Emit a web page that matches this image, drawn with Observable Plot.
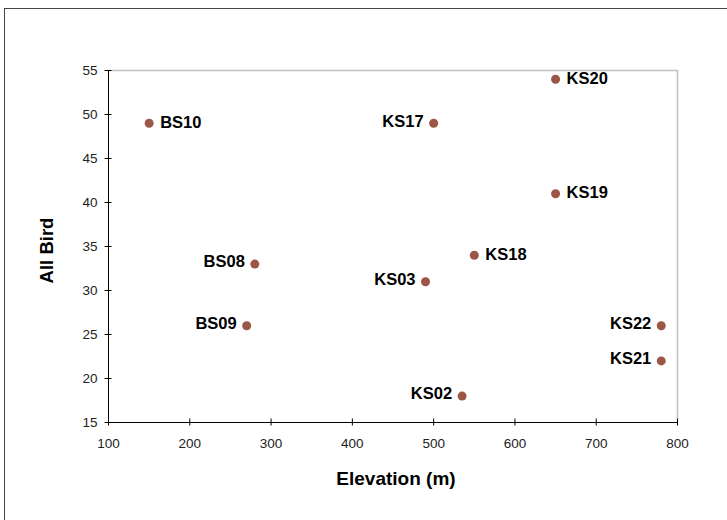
<!DOCTYPE html>
<html>
<head>
<meta charset="utf-8">
<script src="https://cdn.jsdelivr.net/npm/d3@7"></script>
<script src="https://cdn.jsdelivr.net/npm/@observablehq/plot@0.6"></script>
<style>
  html, body { margin: 0; padding: 0; background: #fff; overflow: hidden; }
  #wrap { position: relative; width: 727px; height: 520px; overflow: hidden; }
  #frame { position: absolute; left: 4px; top: 8px; width: 760px; height: 560px; border: 1px solid #444; box-sizing: border-box; }
  #chart { position: absolute; left: 0; top: 0; }
</style>
</head>
<body>
<div id="wrap"><div id="frame"></div><div id="chart"></div></div>
<script>
const sites = ["BS10", "KS17", "KS20", "KS19", "KS18", "KS03", "BS08", "BS09", "KS22", "KS21", "KS02"];
const elevation = [150, 500, 650, 650, 550, 490, 280, 270, 780, 780, 535];
const allBird = [49, 49, 54, 41, 34, 31, 33, 26, 26, 22, 18];
const labelSide = ["right", "left", "right", "right", "right", "left", "left", "left", "left", "left", "left"];
const xTicks = [100, 200, 300, 400, 500, 600, 700, 800];
const yTicks = [15, 20, 25, 30, 35, 40, 45, 50, 55];

const data = sites.map((s, i) => ({site: s, x: elevation[i], y: allBird[i], side: labelSide[i]}));
const font = "Liberation Sans, Arial, sans-serif";

const chart = Plot.plot({
  width: 727,
  height: 520,
  marginLeft: 108,
  marginRight: 50,
  marginTop: 70,
  marginBottom: 98,
  style: {fontFamily: font, background: "transparent"},
  x: {domain: [100, 800]},
  y: {domain: [15, 55]},
  marks: [
    Plot.ruleY([55], {stroke: "#c0c0c0", strokeWidth: 1.5}),
    Plot.ruleX([800], {stroke: "#c0c0c0", strokeWidth: 1.5}),
    Plot.ruleY([15], {stroke: "#000"}),
    Plot.ruleX([100], {stroke: "#000"}),
    Plot.axisX(xTicks, {tickSize: 7, dy: -3.5, tickFormat: () => "", label: null, stroke: "#000"}),
    Plot.axisX(xTicks, {tickSize: 0, tickPadding: 16, label: null, fontSize: 13.5, fill: "#222"}),
    Plot.axisY(yTicks, {tickSize: 7, dx: 3.5, tickFormat: () => "", label: null, stroke: "#000"}),
    Plot.axisY(yTicks, {tickSize: 0, tickPadding: 11, label: null, fontSize: 13.5, fill: "#222"}),
    Plot.dot(data, {x: "x", y: "y", r: 4.5, fill: "#9c5646", stroke: null}),
    Plot.text(data.filter(d => d.side === "right"), {x: "x", y: "y", text: "site", dx: 11, dy: -1, textAnchor: "start", fontSize: 16.5, fontWeight: "bold", fill: "#000"}),
    Plot.text(data.filter(d => d.side === "left"), {x: "x", y: "y", text: "site", dx: -10, dy: -2, textAnchor: "end", fontSize: 16.5, fontWeight: "bold", fill: "#000"}),
    Plot.text(["Elevation (m)"], {frameAnchor: "bottom", dx: 3, dy: 56, text: d => d, textAnchor: "middle", fontSize: 19, fontWeight: "bold", fill: "#000", lineAnchor: "middle"}),
    Plot.text(["All Bird"], {frameAnchor: "left", dx: -61, dy: 4, text: d => d, rotate: -90, textAnchor: "middle", fontSize: 18.5, fontWeight: "bold", fill: "#000", lineAnchor: "middle"})
  ]
});
document.getElementById("chart").appendChild(chart);
</script>
</body>
</html>
